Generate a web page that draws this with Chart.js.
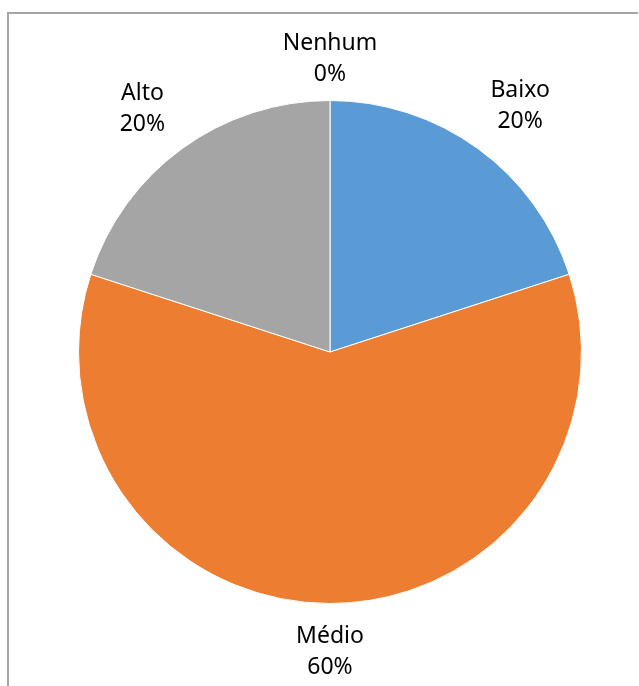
<!DOCTYPE html>
<html>
<head>
<meta charset="utf-8">
<script src="https://cdn.jsdelivr.net/npm/chart.js@4/dist/chart.umd.min.js"></script>
<style>
html,body{margin:0;padding:0;background:#fff;}
#wrap{width:639px;height:686px;position:relative;}
</style>
</head>
<body>
<div id="wrap"><canvas id="pie"></canvas></div>
<script>
const categories=['Nenhum','Baixo','Médio','Alto'];
const values=[0,20,60,20];
const colors=['#FFC000','#5B9BD5','#ED7D31','#A5A5A5'];

const FONT='23px "Noto Sans", sans-serif';
const LINE_H=31;

// chart frame (top and left edges only show in view)
const framePlugin={
    id:'frame',
    beforeDraw(chart){
        const ctx=chart.ctx;
        ctx.save();
        ctx.strokeStyle='#a6a6a6';
        ctx.lineWidth=2;
        ctx.beginPath();
        ctx.moveTo(8,chart.height);
        ctx.lineTo(8,13);
        ctx.lineTo(638,13);
        ctx.stroke();
        ctx.restore();
    }
};

// category + percent labels outside each slice
const outerLabels={
    id:'outerLabels',
    afterDatasetsDraw(chart){
        const ctx=chart.ctx;
        const meta=chart.getDatasetMeta(0);
        const data=chart.data.datasets[0].data;
        const total=data.reduce((a,b)=>a+b,0);
        ctx.save();
        ctx.font=FONT;
        ctx.fillStyle='#000';
        ctx.textAlign='center';
        ctx.textBaseline='middle';
        meta.data.forEach((arc,i)=>{
            const p=arc.getProps(['x','y','startAngle','endAngle','outerRadius'],true);
            const mid=(p.startAngle+p.endAngle)/2;
            const line1=chart.data.labels[i];
            const line2=Math.round(data[i]/total*100)+'%';
            const w=Math.max(ctx.measureText(line1).width,ctx.measureText(line2).width);
            const h=LINE_H*2;
            const dx=Math.cos(mid),dy=Math.sin(mid);
            const ext=Math.abs(dx)*w/2+Math.abs(dy)*h/2;
            const d=p.outerRadius+14+ext;
            const cx=p.x+dx*d*1.05,cy=p.y+dy*d+3;
            ctx.fillText(line1,cx,cy-LINE_H/2);
            ctx.fillText(line2,cx,cy+LINE_H/2);
        });
        ctx.restore();
    }
};

new Chart(document.getElementById('pie'),{
    type:'pie',
    data:{
        labels:categories,
        datasets:[{data:values,backgroundColor:colors,borderColor:'#fff',borderWidth:1}]
    },
    options:{
        responsive:true,
        maintainAspectRatio:false,
        animation:false,
        layout:{padding:{left:78,right:57,top:100,bottom:82}},
        plugins:{legend:{display:false},tooltip:{enabled:false}}
    },
    plugins:[framePlugin,outerLabels]
});
</script>
</body>
</html>
